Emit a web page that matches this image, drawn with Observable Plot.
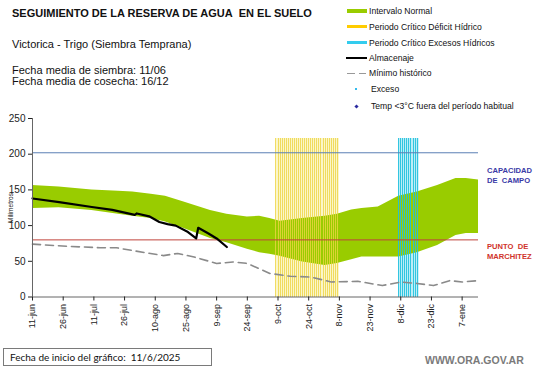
<!DOCTYPE html>
<html><head><meta charset="utf-8">
<script src="https://cdn.jsdelivr.net/npm/d3@7"></script>
<script src="https://cdn.jsdelivr.net/npm/@observablehq/plot@0.6"></script>
<style>
body{margin:0;background:#fff;font-family:"Liberation Sans",Arial,sans-serif;color:#111;}
#wrap{position:relative;width:541px;height:368px;overflow:hidden;background:#fff;}
.abs{position:absolute;white-space:nowrap;}
#title{left:12px;top:8px;font-size:11px;font-weight:bold;line-height:11px;}
#sub{left:12px;top:39px;font-size:11px;line-height:11px;}
#fechas{left:12px;top:65px;font-size:11px;line-height:10.7px;}
.lg{font-size:8.6px;line-height:10px;color:#111;}
.sw{position:absolute;}
#cap{left:487px;top:166px;font-size:7.6px;font-weight:bold;line-height:9.5px;color:#3a3aa6;}
#pm{left:487px;top:242px;font-size:7.6px;font-weight:bold;line-height:9.5px;color:#d0342c;}
#mm{left:10px;top:208px;font-size:6.5px;transform:translate(-50%,-50%) rotate(-90deg);}
#foot{left:3px;top:348px;width:209px;height:18px;border:1px solid #7a7a7a;box-sizing:border-box;font-family:Lato,"Open Sans",sans-serif;font-size:10px;line-height:16px;padding-left:6px;}
#www{left:425px;top:354px;font-size:10.5px;font-weight:bold;color:#7a7a7a;}
</style></head><body>
<div id="wrap">
  <div class="abs" id="title">SEGUIMIENTO DE LA RESERVA DE AGUA&nbsp; EN EL SUELO</div>
  <div class="abs" id="sub">Victorica - Trigo (Siembra Temprana)</div>
  <div class="abs" id="fechas">Fecha media de siembra: 11/06<br>Fecha media de cosecha: 16/12</div>
  <div id="legend"></div>
  <div id="chart" class="abs" style="left:0;top:110px"></div>
  <div class="abs" id="cap">CAPACIDAD<br>DE&nbsp; CAMPO</div>
  <div class="abs" id="pm">PUNTO&nbsp; DE<br>MARCHITEZ</div>
  <div class="abs" id="mm">Milímetros</div>
  <div class="abs" id="foot">Fecha de inicio del gráfico:&nbsp; 11/6/2025</div>
  <div class="abs" id="www">WWW.ORA.GOV.AR</div>
</div>
<script>
// ---- data ----
const normalDates = ["2025-06-11","2025-06-24","2025-07-10","2025-07-23","2025-07-30","2025-08-08","2025-08-15","2025-08-24","2025-09-06","2025-09-14","2025-09-24","2025-09-30","2025-10-05","2025-10-10","2025-10-21","2025-11-01","2025-11-07","2025-11-14","2025-11-19","2025-11-27","2025-12-07","2025-12-16","2025-12-26","2026-01-04","2026-01-09","2026-01-15"];
const normalUpper = [156,154,150,148,147,144,141,133,121,116,112,113,110,106,110,113,116,122,124,126,141,147,156,166,166,164];
const normalLower = [124,125,121,116,113,110,105,96,82,76,67,62,60,57,49,44,47,52,56,56,56,62,72,86,89,89];

const almDates = ["2025-06-11","2025-06-24","2025-07-10","2025-07-20","2025-07-31","2025-08-01","2025-08-07","2025-08-12","2025-08-16","2025-08-20","2025-08-26","2025-08-30","2025-08-31","2025-09-05","2025-09-09","2025-09-14"];
const almValues = [138,133,126,122,115,117,113,105,102,100,91,82,97,89,82,70];

const minDates = ["2025-06-11","2025-06-28","2025-07-14","2025-07-22","2025-07-30","2025-08-14","2025-08-21","2025-08-29","2025-09-09","2025-09-17","2025-09-24","2025-10-05","2025-10-15","2025-10-25","2025-11-04","2025-11-17","2025-11-29","2025-12-08","2025-12-16","2025-12-24","2026-01-01","2026-01-07","2026-01-15"];
const minValues = [74,71,69,69,65,58,61,56,47,49,47,33,29,28,21,22,16,21,19,16,23,21,23];

const capacidadCampo = 202;
const puntoMarchitez = 80;
const deficitPeriod = ["2025-10-08","2025-11-07"];
const excesoPeriod = ["2025-12-07","2025-12-16"];
const periodTop = 222;

const tickDates = ["2025-06-11","2025-06-26","2025-07-11","2025-07-26","2025-08-10","2025-08-25","2025-09-09","2025-09-24","2025-10-09","2025-10-24","2025-11-08","2025-11-23","2025-12-08","2025-12-23","2026-01-07"];
const tickLabels = ["11-jun","26-jun","11-jul","26-jul","10-ago","25-ago","9-sep","24-sep","9-oct","24-oct","8-nov","23-nov","8-dic","23-dic","7-ene"];
const xDomain = ["2025-06-11","2026-01-15"];
const yTicks = [0,50,100,150,200,250];

const legendItems = [
  {label:"Intervalo Normal", type:"rect", color:"#99cc00"},
  {label:"Periodo Crítico Déficit Hídrico", type:"rect", color:"#ffcc00"},
  {label:"Periodo Crítico Excesos Hídricos", type:"rect", color:"#33ccee"},
  {label:"Almacenaje", type:"line", color:"#000"},
  {label:"Mínimo histórico", type:"dash", color:"#999"},
  {label:"Exceso", type:"dot", color:"#33bbee"},
  {label:"Temp <3°C fuera del período habitual", type:"diamond", color:"#2a2aa0"}
];

// ---- build ----
const P = d3.utcParse("%Y-%m-%d");
const normal = normalDates.map((d,i)=>({date:P(d), hi:normalUpper[i], lo:normalLower[i]}));
const alm = almDates.map((d,i)=>({date:P(d), v:almValues[i]}));
const mins = minDates.map((d,i)=>({date:P(d), v:minValues[i]}));
const dayList = p => d3.utcDay.range(P(p[0]), d3.utcDay.offset(P(p[1]),1));
const defDays = dayList(deficitPeriod), excDays = dayList(excesoPeriod);
const tickMap = new Map(tickDates.map((d,i)=>[+P(d), tickLabels[i]]));

const chart = Plot.plot({
  width:541, height:235,
  marginLeft:32, marginRight:63, marginTop:8, marginBottom:48.5,
  style:{fontFamily:"Liberation Sans, Arial, sans-serif", fontSize:"10px", color:"#222", background:"transparent"},
  x:{type:"utc", domain:xDomain.map(P)},
  y:{domain:[0,250]},
  marks:[
    Plot.rect([deficitPeriod], {x1:d=>P(d[0]), x2:d=>d3.utcDay.offset(P(d[1]),1), y1:0, y2:periodTop, fill:"#fbf6c8"}),
    Plot.rect([excesoPeriod], {x1:d=>P(d[0]), x2:d=>d3.utcDay.offset(P(d[1]),1), y1:0, y2:periodTop, fill:"#bdeef6"}),
    Plot.areaY(normal, {x:"date", y1:"lo", y2:"hi", fill:"#99cc00", curve:"linear"}),
    Plot.ruleX(defDays, {x:d=>d, y1:0, y2:periodTop, stroke:"#eed444", strokeWidth:1, strokeOpacity:0.8, shapeRendering:"crispEdges"}),
    Plot.ruleX(excDays, {x:d=>d, y1:0, y2:periodTop, stroke:"#22c0de", strokeWidth:1, strokeOpacity:0.9, shapeRendering:"crispEdges"}),
    Plot.ruleY([capacidadCampo], {stroke:"#5b7fb5", strokeWidth:1}),
    Plot.ruleY([puntoMarchitez], {stroke:"#c0443c", strokeWidth:1}),
    Plot.lineY(mins, {x:"date", y:"v", stroke:"#8a8a8a", strokeWidth:1.6, strokeDasharray:"8,5"}),
    Plot.lineY(alm, {x:"date", y:"v", stroke:"#000", strokeWidth:2.2}),
    Plot.ruleY([0], {stroke:"#666"}),
    Plot.ruleX([P(xDomain[0])], {y1:0, y2:250, stroke:"#666"}),
    Plot.axisY({ticks:yTicks, tickSize:4, tickPadding:3, label:null, fontSize:10}),
    Plot.axisX({ticks:tickDates.map(P), tickFormat:d=>tickMap.get(+d), tickRotate:-90, tickSize:4, tickPadding:3, label:null, fontSize:9})
  ]
});
document.getElementById("chart").appendChild(chart);

// legend
const lg = document.getElementById("legend");
const rowY = [11,26.7,42.7,58.3,73.3,89.3,106];
legendItems.forEach((it,i)=>{
  const cy = rowY[i];
  const add = (css)=>{const e=document.createElement("div"); e.className="sw"; Object.assign(e.style, css); lg.appendChild(e);};
  if(it.type==="rect") add({left:"347px", top:(cy-1.6)+"px", width:"20px", height:"3.3px", background:it.color});
  if(it.type==="line") add({left:"346px", top:(cy-1)+"px", width:"21px", height:"2px", background:it.color});
  if(it.type==="dash"){ add({left:"347px", top:(cy-0.75)+"px", width:"8px", height:"1.5px", background:it.color}); add({left:"359px", top:(cy-0.75)+"px", width:"7px", height:"1.5px", background:it.color}); }
  if(it.type==="dot") add({left:"355px", top:(cy-1)+"px", width:"2px", height:"2px", background:it.color});
  if(it.type==="diamond") add({left:"354.5px", top:(cy-1.5)+"px", width:"3px", height:"3px", background:it.color, transform:"rotate(45deg)"});
  const t=document.createElement("div"); t.className="abs lg"; t.textContent=it.label;
  t.style.left=(it.type==="dot"||it.type==="diamond")?"371px":"369px"; t.style.top=(cy-5)+"px"; lg.appendChild(t);
});
</script>
</body></html>
